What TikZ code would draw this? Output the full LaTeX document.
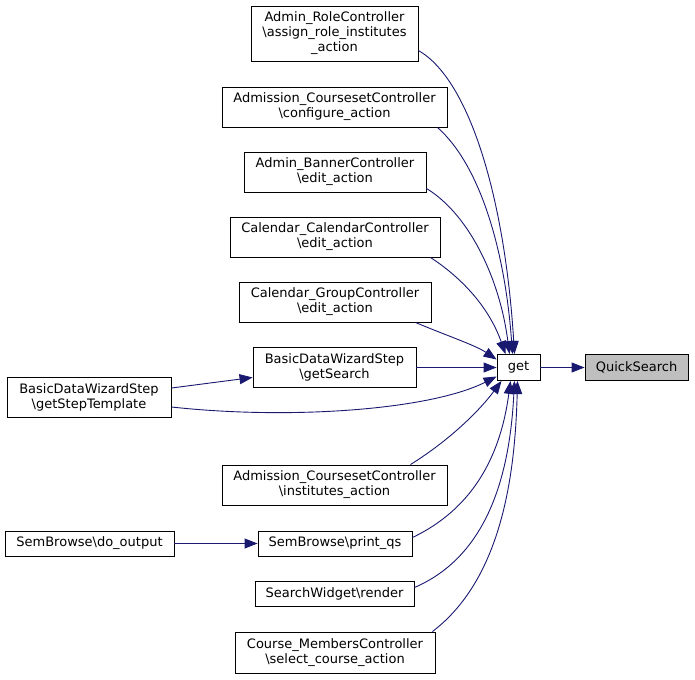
\documentclass[tikz,border=0pt]{standalone}
\usepackage{fontspec}
\setmainfont{DejaVu Sans}
\usetikzlibrary{arrows.meta}
\definecolor{edgecol}{HTML}{191970}
\definecolor{qsfill}{HTML}{BFBFBF}
\tikzset{
  fbox/.style={draw=black, line width=0.9pt, fill=white, inner sep=0pt, align=center,
    font=\fontsize{13}{15}\selectfont},
  edge/.style={draw=edgecol, line width=0.9pt, -{Triangle[length=13pt,width=10pt]}},
}
\begin{document}
\begin{tikzpicture}[x=1pt,y=-1pt]
\useasboundingbox (0,0) rectangle (695,679);
\node[fbox, fill=qsfill, minimum width=103, minimum height=26] (qs) at (636.5,367.5) {QuickSearch};
\node[fbox, minimum width=43, minimum height=26] (get) at (518.5,367.5) {get};
\node[fbox, minimum width=167, minimum height=55] (b1) at (334.5,33.5) {Admin\_RoleController\\\textbackslash assign\_role\_institutes\\\_action};
\node[fbox, minimum width=225, minimum height=40] (b2) at (334.5,107) {Admission\_CoursesetController\\\textbackslash configure\_action};
\node[fbox, minimum width=182, minimum height=40] (b3) at (335,172) {Admin\_BannerController\\\textbackslash edit\_action};
\node[fbox, minimum width=210, minimum height=40] (b4) at (335,237) {Calendar\_CalendarController\\\textbackslash edit\_action};
\node[fbox, minimum width=192, minimum height=40] (b5) at (335,302) {Calendar\_GroupController\\\textbackslash edit\_action};
\node[fbox, minimum width=163, minimum height=40] (b6) at (334.5,367.5) {BasicDataWizardStep\\\textbackslash getSearch};
\node[fbox, minimum width=164, minimum height=40] (b7) at (89,397) {BasicDataWizardStep\\\textbackslash getStepTemplate};
\node[fbox, minimum width=225, minimum height=40] (b8) at (334.5,485) {Admission\_CoursesetController\\\textbackslash institutes\_action};
\node[fbox, minimum width=169, minimum height=25] (b9) at (89.5,543.5) {SemBrowse\textbackslash do\_output};
\node[fbox, minimum width=154, minimum height=25] (b10) at (335,543.5) {SemBrowse\textbackslash print\_qs};
\node[fbox, minimum width=159, minimum height=25] (b11) at (334.5,593.5) {SearchWidget\textbackslash render};
\node[fbox, minimum width=200, minimum height=41] (b12) at (335,652.5) {Course\_MembersController\\\textbackslash select\_course\_action};
% edges (note: yshift is in page direction, positive = up)
\draw[edge] (get) -- (qs);
\draw[edge] ([yshift=-17]b1.east) .. controls (470,80) and (505,200) .. ([xshift=-4]get.north);
\draw[edge] ([xshift=-10]b2.south east) .. controls (480,165) and (505,250) .. ([xshift=-6]get.north);
\draw[edge] ([yshift=4]b3.south east) .. controls (470,215) and (500,280) .. ([xshift=-9]get.north);
\draw[edge] ([xshift=-10]b4.south east) .. controls (465,280) and (490,310) .. ([xshift=-13]get.north);
\draw[edge] ([xshift=-16]b5.south east) .. controls (445,335) and (475,345) .. ([yshift=8]get.west);
\draw[edge] (b6.east) -- (get.west);
\draw[edge] ([yshift=-10]b7.east) .. controls (290,420) and (430,410) .. ([yshift=-9]get.west);
\draw[edge] ([yshift=9]b7.east) -- ([yshift=-10]b6.west);
\draw[edge] ([xshift=-37]b8.north east) .. controls (450,440) and (480,410) .. ([xshift=-17]get.south);
\draw[edge] ([yshift=6]b10.east) .. controls (470,510) and (500,460) .. ([xshift=-8]get.south);
\draw[edge] ([yshift=6]b11.east) .. controls (490,555) and (510,470) .. ([xshift=-4]get.south);
\draw[edge] ([xshift=-3]b12.north east) .. controls (500,580) and (515,480) .. ([xshift=-1]get.south);
\draw[edge] (b9) -- (b10);
\end{tikzpicture}
\end{document}
